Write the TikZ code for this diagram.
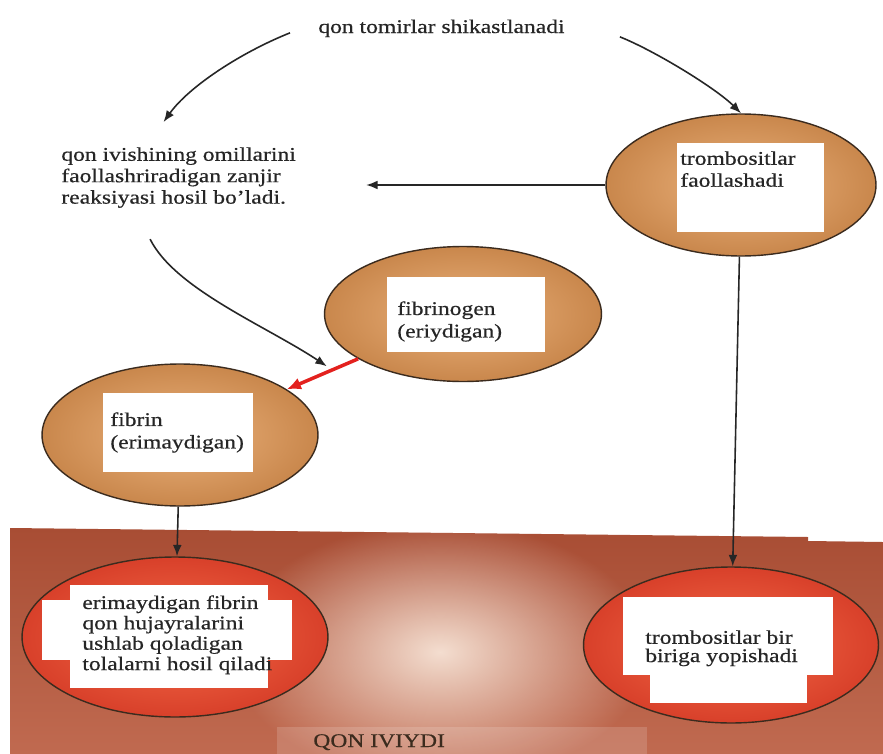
\documentclass[tikz,border=0pt]{standalone}
\usepackage{fontspec}
\setmainfont{Liberation Serif}[FakeStretch=1.22, FakeBold=0.5]
\usetikzlibrary{positioning, arrows.meta, shapes.geometric, fadings}
\definecolor{ink}{HTML}{262626}
\definecolor{rim}{HTML}{3B2B1E}
\definecolor{tanhi}{HTML}{EBB27C}
\definecolor{tanlo}{HTML}{C9874C}
\definecolor{redhi}{HTML}{F56B48}
\definecolor{redlo}{HTML}{D8402A}
\definecolor{bandtop}{HTML}{A84D34}
\definecolor{bandlow}{HTML}{C06A50}
\definecolor{glow}{HTML}{F4DED0}
\definecolor{convred}{HTML}{E3211E}
\tikzfading[name=glow fade, inner color=transparent!0, outer color=transparent!100]

\begin{document}
\begin{tikzpicture}[x=0.02cm, y=-0.02cm,
  every node/.style={inner sep=0pt, text=ink},
  say/.style={font=\fontsize{11}{#1}\selectfont, align=left, anchor=north west},
  say/.default=12.5,
  cell/.style={ellipse, draw=rim, line width=0.8pt, inner color=tanhi, outer color=tanlo},
  hot/.style={cell, inner color=redhi, outer color=redlo},
  card/.style={fill=white},
  arr/.style={draw=ink, line width=0.9pt, -{Latex[length=6.5pt,width=5pt]}},
  conv/.style={draw=convred, line width=2pt, -{Latex[length=8pt,width=7pt]}}
]
  \useasboundingbox (0,0) rectangle (883,754);
  \fill[white] (0,0) rectangle (883,754);

  % lower band with the light patch in the middle
  \shade[top color=bandtop, bottom color=bandlow]
    (10,528) -- (808,537) -- (808,541) -- (883,542) -- (883,754) -- (10,754) -- cycle;
  \begin{scope}
    \clip (10,528) -- (808,537) -- (808,541) -- (883,542) -- (883,754) -- (10,754) -- cycle;
    \fill[glow, path fading=glow fade] (440,652) ellipse [x radius=4.2cm, y radius=2.6cm];
  \end{scope}
  \fill[white, fill opacity=0.15] (277,727) rectangle (647,754);

  % cells
  \node[cell, minimum width=5.4cm, minimum height=2.84cm] (plt) at (741,185) {};
  \node[cell, minimum width=5.54cm, minimum height=2.7cm] (fbg) at (463,314) {};
  \node[cell, minimum width=5.52cm, minimum height=2.84cm] (fbr) at (180,435) {};
  \node[hot, minimum width=6.12cm, minimum height=3.2cm] (mesh) at (175,637) {};
  \node[hot, minimum width=5.9cm, minimum height=3.12cm] (plug) at (731,645) {};

  % white cards
  \fill[card] (677,143) rectangle (824,232);
  \fill[card] (387,277) rectangle (545,352);
  \fill[card] (103,393) rectangle (253,472);
  \fill[card] (70,585) rectangle (268,688);
  \fill[card] (42,600) rectangle (292,660);
  \fill[card] (623,597) rectangle (833,675);
  \fill[card] (650,675) rectangle (807,703);

  % texts
  \node[say, anchor=base west] (injury) at (318,33) {qon tomirlar shikastlanadi};
  \node[say=12.2] (casc) at (61,147) {qon ivishining omillarini\\faollashriradigan zanjir\\reaksiyasi hosil bo'ladi.};
  \node[say=12.5] (pltT) at (680,151) {trombositlar\\faollashadi};
  \node[say=12.8] (fbgT) at (397,301) {fibrinogen\\(eriydigan)};
  \node[say=12.8] (fbrT) at (110,412) {fibrin\\(erimaydigan)};
  \node[say=11.6] (meshT) at (82,595) {erimaydigan fibrin\\qon hujayralarini\\ushlab qoladigan\\tolalarni hosil qiladi};
  \node[say=10.4] (plugT) at (645,630) {trombositlar bir\\biriga yopishadi};
  \node[say, anchor=base west, text=rim] (verdict) at (313,747) {QON IVIYDI};

  % arrows
  \draw[arr] ([shift={(-5.6mm,-0.9mm)}]injury.west) .. controls +(-50,20) and +(25,-35) .. ([shift={(-3mm,5mm)}]casc.north);
  \draw[arr] ([shift={(11mm,-1.7mm)}]injury.east) .. controls +(35,14) and +(-25,-25) .. (plt.north);
  \draw[arr, shorten >=1.4cm] (plt.west) -- (plt.west -| casc.east);
  \draw[conv] (fbg) -- (fbr) coordinate[pos=0.44] (join);
  \draw[arr] ([shift={(-5.7mm,-6.2mm)}]casc.south) .. controls +(25,50) and +(-60,-40) .. ([yshift=1.2mm]join);
  \draw[arr] (fbr) -- (mesh);
  \draw[arr] (plt) -- (plug);
\end{tikzpicture}
\end{document}
